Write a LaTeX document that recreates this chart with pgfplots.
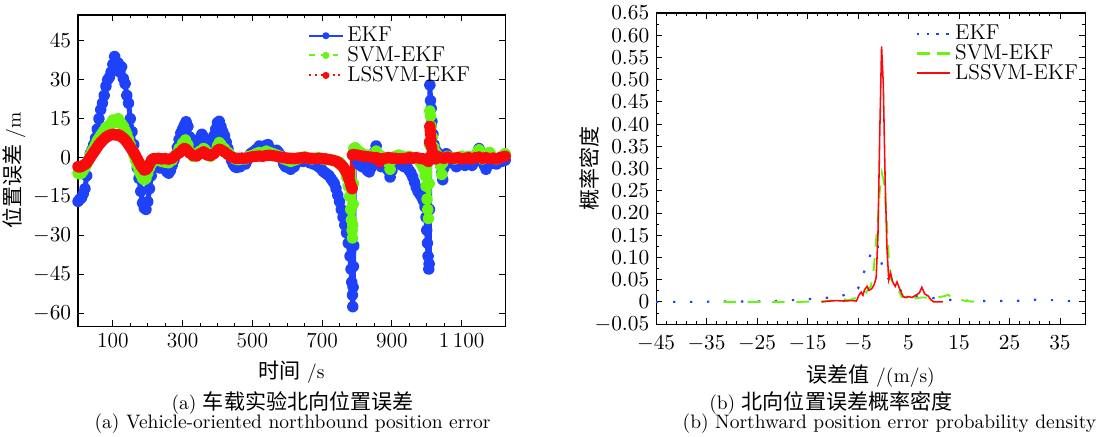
\documentclass[border=0pt]{standalone}
\usepackage{fontspec}
\usepackage{pgfplots}
\pgfplotsset{compat=1.18}
\newfontfamily\cjk[Scale=1.08]{Noto Sans CJK SC}
\definecolor{ekfblue}{RGB}{30,65,250}
\definecolor{svmgreen}{RGB}{105,245,20}
\definecolor{lsred}{RGB}{250,10,10}

\pgfplotsset{
  myaxis/.style={
    scale only axis,
    axis line style={line width=0.6pt},
    tick style={black, line width=0.5pt},
    major tick length=3pt, minor tick length=1.6pt,
    tick label style={font=\fontsize{11}{12}\selectfont},
    legend style={draw=none, fill=none, row sep=-3pt, inner sep=1.5pt,
      font=\fontsize{11}{12}\selectfont},
    legend cell align=left,
  },
  band/.style={line width=2.6pt, line join=round, mark=*, mark size=1.7pt,
    mark options={solid}},
}

\begin{document}
\begin{tikzpicture}
\useasboundingbox (0,0) rectangle (565pt,-224pt);

% (a) position error over time
\begin{axis}[myaxis,
  at={(40pt,-7.7pt)}, anchor=north west,
  width=219pt, height=159.5pt,
  xmin=0, xmax=1225, ymin=-65, ymax=55,
  xtick={100,300,500,700,900,1100},
  xticklabels={100,300,500,700,900,{1\,100}},
  minor x tick num=3,
  ytick={-60,-45,-30,-15,0,15,30,45},
  xlabel={{\cjk 时间}\ /s},
  ylabel={{\cjk 位置误差}\ /m},
  ylabel shift=-3pt,
  legend style={at={(0.935,0.985)}, anchor=north east},
]
\addplot[ekfblue, band, legend image post style={ekfblue, line width=1pt, mark size=1.3pt}] coordinates {
(0,-16.9)(5,-16)(10,-15.5)(15,-14)(20,-12)(25,-7)(30,-1)(35,1.5)(40,3)(45,5)
(50,7.5)(55,11)(60,15)(65,18.5)(70,21)(75,24)(80,27.5)(85,30)(90,31)(95,33)
(100,36)(105,39)(110,35)(115,36.5)(120,33)(125,35)(130,30.5)(135,28.5)(140,24)(145,21)
(150,15)(155,10)(160,5)(165,0)(170,-4)(175,-8)(180,-13)(185,-17.5)(190,-19.5)(195,-20)
(200,-17)(205,-12)(210,-7)(215,-4)(220,-3.5)(225,-3)(230,-3.5)(235,-4)(240,-3.5)(245,-3)
(250,-4.5)(255,-5.5)(260,-6)(265,-5)(270,-3)(275,-1)(280,1)(285,4)(290,7)(295,9.5)
(300,11)(305,12.5)(310,13.8)(315,12)(320,8)(325,4.5)(330,2.5)(335,2)(340,3.5)(345,6)
(350,7.5)(355,9)(360,8)(365,6)(370,4)(375,3)(380,4)(385,6)(390,8.5)(395,11)
(400,13.5)(405,14)(410,12)(415,10)(420,8.5)(425,6)(430,3.5)(435,1)(440,-1)(445,-2.5)
(450,-3.5)(455,-3.8)(460,-3)(465,-3.5)(470,-2.5)(475,-2)(480,-2.5)(485,-1)(490,0.5)(495,1.5)
(500,2)(505,0.5)(510,3)(515,3.5)(520,4.5)(525,4)(530,4.2)(535,3.5)(540,4.8)(545,5)
(550,3.5)(555,3)(560,2)(565,2.5)(570,2.8)(575,2)(580,1)(585,-0.5)(590,-2.5)(595,-3.5)
(600,-3)(605,-4)(610,-4.5)(615,-3)(620,-3.5)(625,-2)(630,-1.5)(635,-1)(640,-0.8)(645,-1.5)
(650,-0.5)(655,-1)(660,-1.2)(665,-2)(670,-1.5)(675,-2.5)(680,-2)(685,-3)(690,-3.5)(695,-4)
(700,-4.8)(705,-5.5)(710,-6)(715,-6.5)(720,-7)(725,-8)(730,-9)(735,-10)(740,-12)(745,-14.5)
(750,-17)(755,-20)(760,-23)(765,-26)(770,-29)(775,-33)(780,-38)(783,-43)(785,-48)(787,-53)
(788,-57.5)(789,-50)(790,-42)(791,-34)(792,3)(795,0.5)(800,-1)(805,-2.5)(810,-3)(815,-3.5)
(820,-3)(825,-4)(830,-5)(835,-5.5)(840,-4)(845,-2)(850,2)(855,4.5)(860,1)(865,-2)
(870,-3.5)(875,-3)(880,-2.5)(885,-3)(890,-5)(895,-7.5)(900,-5)(905,-2)(910,-1.5)(915,-2)
(920,-2.5)(925,-2)(930,-3)(935,-3.5)(940,-3)(945,-4)(950,-5)(955,-6)(960,-7.5)(965,-9.5)
(970,-11.5)(975,-13)(980,-14)(985,-15)(990,-16.5)(995,-19)(998,-23)(1000,-28)(1002,-33)(1004,-38)
(1006,-43)(1007,-41)(1008,-20)(1009,28)(1011,22)(1013,19)(1015,14)(1018,9)(1021,5)(1025,3)
(1030,2)(1035,1)(1040,-3)(1043,-6)(1046,-8.5)(1049,-4)(1052,0)(1056,1.5)(1060,1)(1065,-1)
(1070,-2)(1075,-1.5)(1080,-2.5)(1085,-3.5)(1090,-3)(1095,-2)(1100,-1)(1105,-2.5)(1110,-3)(1115,-2)
(1120,-1)(1125,-2)(1130,-3)(1135,-2)(1140,-0.5)(1145,1)(1150,3.5)(1155,0)(1160,-1.5)(1165,-3)
(1170,-4.5)(1175,-3)(1180,-2.5)(1185,-2)(1190,-1.5)(1195,-2)(1200,-2.5)(1205,-1.5)(1210,-1)(1215,-1.5)
(1220,-0.5)(1225,-1)
};
\addlegendentry{EKF}
\addplot[svmgreen, band, legend image post style={svmgreen, line width=1pt, mark size=1.3pt, dashed}] coordinates {
(0,-6)(5,-6.3)(10,-6)(15,-5)(20,-4)(25,-2.5)(30,-1)(35,1)(40,2.5)(45,3.5)
(50,5)(55,6.5)(60,7.5)(65,8.5)(70,9.5)(75,10.5)(80,11.5)(85,12)(90,12.5)(95,13)
(100,14.5)(105,13.5)(110,14)(115,15)(120,14)(125,13)(130,12)(135,10.5)(140,9)(145,7)
(150,5)(155,3)(160,1)(165,-1)(170,-3)(175,-5)(180,-6.5)(185,-8)(190,-8.5)(195,-8)
(200,-6)(205,-4)(210,-2.5)(215,-1.5)(220,-1.2)(230,-1)(240,-1.5)(250,-1.8)(260,-2)(270,-1)
(280,1)(290,3.5)(300,5.5)(308,6.8)(315,5)(320,2.5)(330,0.5)(340,1)(350,2.5)(360,3.5)
(365,3)(370,1.5)(380,0.5)(390,2)(400,4.5)(405,5.8)(410,5)(420,3.5)(430,2)(440,0.5)
(450,-0.5)(460,-0.8)(470,-0.5)(480,-0.5)(490,0.5)(500,0.8)(510,1.5)(520,2)(530,1.8)(540,2.5)
(550,2)(560,1.5)(570,1)(580,0.5)(590,-0.5)(600,-1)(610,-1.5)(620,-1)(630,-0.5)(640,0)
(650,0.3)(660,-0.2)(670,-0.5)(680,-0.3)(690,0)(700,-0.5)(710,-0.7)(720,-0.8)(730,-1)(740,-1.3)
(750,-1.8)(755,-2.5)(760,-3.5)(765,-5)(770,-7.5)(775,-11)(779,-15)(782,-20)(784,-24)(786,-28)
(787,-31)(788,-26)(789,-18)(790,-10)(791,3.5)(795,3.8)(800,3)(810,2)(820,1)(830,1)
(840,0.5)(850,1.5)(855,2.5)(860,1.5)(870,0.5)(880,0)(885,-0.5)(890,-2)(895,-4.5)(900,-1)
(910,0.5)(920,1)(930,0.5)(940,0)(950,0.5)(960,0)(970,-0.5)(980,-1.5)(985,-2.5)(990,-4)
(995,-7)(998,-11)(1001,-16)(1003,-20)(1005,-23.5)(1007,-10)(1008,5)(1009,18)(1011,16)(1013,12)
(1016,8)(1020,4)(1025,2)(1030,1)(1035,0)(1040,-3)(1043,-6.5)(1046,-2)(1050,0)(1060,0.5)
(1070,0)(1080,-0.5)(1090,0)(1100,0.5)(1110,0)(1120,0.5)(1130,0)(1140,1)(1145,2)(1150,3)
(1155,1)(1160,-0.5)(1170,0.5)(1180,2)(1185,1)(1190,0)(1200,-0.5)(1210,0)(1220,1)(1225,1.5)
};
\addlegendentry{SVM-EKF}
\addplot[lsred, band, legend image post style={lsred, line width=1pt, mark size=1.3pt, dotted}] coordinates {
(0,-3.5)(5,-3.6)(10,-3.4)(15,-3)(20,-2.6)(25,-2)(30,-1)(35,0)(40,1)(45,2)
(50,3)(55,4)(60,5)(65,5.8)(70,6.5)(75,7.2)(80,7.8)(85,8.2)(90,8.6)(95,8.8)
(100,9)(105,8.8)(110,8.7)(115,8.8)(120,8.5)(125,8)(130,7.5)(135,6.8)(140,6)(145,5)
(150,4)(155,3)(160,2)(165,0.8)(170,-0.5)(175,-1.8)(180,-3)(185,-4)(190,-4.8)(195,-4.6)
(200,-3.8)(205,-2.5)(210,-1.2)(215,-0.5)(220,-0.4)(230,-0.3)(240,-0.5)(250,-0.4)(260,-0.6)(270,-0.2)
(280,0.8)(290,1.8)(300,3)(305,3.5)(310,3.2)(315,2.5)(320,1.8)(330,0.8)(340,0.6)(350,1.5)
(360,2.2)(365,1.8)(370,1)(380,0.8)(390,1.5)(400,2.8)(405,3.2)(410,3)(420,2.2)(430,1.2)
(440,0.3)(450,-0.2)(460,-0.3)(470,-0.2)(480,-0.3)(490,0)(500,0.3)(510,0.5)(520,0.6)(530,0.5)
(540,0.8)(550,0.9)(560,0.7)(570,0.5)(580,0.2)(590,0)(600,-0.2)(610,-0.3)(620,-0.4)(630,-0.2)
(640,-0.1)(650,0)(660,-0.2)(670,-0.3)(680,-0.4)(690,-0.3)(700,-0.4)(710,-0.5)(720,-0.7)(730,-1)
(740,-1.4)(745,-1.8)(750,-2.3)(755,-2.9)(760,-3.6)(765,-4.5)(770,-5.8)(775,-7.5)(779,-9)(782,-10.5)
(785,-11.5)(786,-12)(787,1)(790,1.2)(800,1)(810,0.7)(820,0.5)(830,0.3)(840,0.2)(850,-0.2)
(855,0)(860,-0.3)(865,-1.5)(870,-0.5)(880,-0.3)(890,0)(900,-0.2)(910,-0.3)(920,-0.5)(930,-0.4)
(940,-0.3)(950,0)(960,-0.2)(970,0)(980,-0.3)(990,-0.5)(1000,-1)(1005,-1.5)(1007,0)(1008,6)
(1009,12)(1010,10.5)(1011,9)(1012,7)(1014,4)(1017,2)(1020,0.5)(1025,-0.5)(1030,0.5)(1040,0)
(1050,-0.3)(1060,0.2)(1070,-0.3)(1080,-0.2)(1090,0)(1100,-0.5)(1110,-0.3)(1120,0)(1130,-0.5)(1140,0)
(1150,0.2)(1160,-0.3)(1170,0)(1180,-0.4)(1190,-0.2)(1200,-0.5)(1210,0)(1220,0.3)(1225,0.5)
};
\addlegendentry{LSSVM-EKF}
\end{axis}

% (b) error probability density
\begin{axis}[myaxis,
  at={(336.4pt,-6.7pt)}, anchor=north west,
  width=220pt, height=159.5pt,
  xmin=-45, xmax=40, ymin=-0.05, ymax=0.65,
  xtick={-45,-35,-25,-15,-5,5,15,25,35},
  minor x tick num=4,
  xticklabel style={yshift=-2.5pt},
  ytick={-0.05,0,0.05,0.1,0.15,0.2,0.25,0.3,0.35,0.4,0.45,0.5,0.55,0.6,0.65},
  yticklabels={$-0.05$,$0$,$0.05$,$0.10$,$0.15$,$0.20$,$0.25$,$0.30$,$0.35$,$0.40$,$0.45$,$0.50$,$0.55$,$0.60$,$0.65$},
  minor y tick num=1,
  xlabel={{\cjk 误差值}\ /(m/s)},
  ylabel={{\cjk 概率密度}},
  ylabel shift=-9pt,
  legend style={at={(1,0.985)}, anchor=north east},
]
\addplot[ekfblue, line width=1.1pt, dash pattern=on 1.2pt off 7.5pt,
  legend image post style={ekfblue, dash pattern=on 1.2pt off 3.8pt}] coordinates {
(-45,0)(-41,0)(-37,0)(-33,0.001)(-29,0.001)(-25,0.001)(-21,0.002)(-16.5,0.005)(-12.4,0.008)(-8.7,0.012)
(-6.5,0.02)(-5,0.03)(-3.6,0.074)(-2.1,0.12)(-1.2,0.13)(-0.4,0.089)(0.5,0.06)(1.5,0.045)(3.5,0.025)(5.5,0.015)
(7.5,0.011)(9.7,0.009)(13.6,0.004)(17.8,0.002)(21.8,0.002)(25.9,0.002)(29.9,0.005)(33.9,0.004)(38.1,0.001)
};
\addlegendentry{EKF}
\addplot[svmgreen, line width=1pt, dash pattern=on 6.5pt off 6pt,
  legend image post style={svmgreen, line width=1.1pt, dash pattern=on 6.5pt off 4pt}] coordinates {
(-31.7,0)(-24.9,0)(-17.8,0)(-12.1,0.001)(-9.25,0.004)(-8.5,0.01)(-7.1,0.003)(-5,0.01)(-3.9,0.012)(-3.2,0.025)
(-2.5,0.035)(-2,0.06)(-1.55,0.12)(-1.06,0.19)(-0.7,0.25)(-0.28,0.29)(0.15,0.27)(0.58,0.2)(1.08,0.1)(1.58,0.05)
(2.15,0.04)(2.86,0.03)(3.57,0.012)(4.64,0.01)(5.57,0.022)(6.42,0.008)(7.49,0.01)(9.27,0.01)(10.7,0.01)(12.1,0.013)
(12.8,0.016)(13.7,0.01)(16.4,0.002)(18.5,0)
};
\addlegendentry{SVM-EKF}
\addplot[lsred, line width=0.8pt, legend image post style={lsred, line width=1pt}] coordinates {
(-12.24,0)(-10.67,0.002)(-9.25,0.003)(-7.82,0.002)(-6.4,0.003)(-5.33,0.002)(-4.83,0.015)(-4.4,0.022)(-4.05,0.015)(-3.69,0.028)
(-3.2,0.035)(-2.84,0.026)(-2.27,0.03)(-1.77,0.04)(-1.41,0.055)(-1.06,0.15)(-0.7,0.38)(-0.34,0.575)(0,0.49)(0.37,0.27)
(0.73,0.12)(1.08,0.05)(1.44,0.065)(1.86,0.045)(2.36,0.035)(2.72,0.045)(3.22,0.03)(3.93,0.012)(4.5,0.01)(5,0.012)
(5.71,0.01)(6.42,0.015)(7.13,0.02)(7.63,0.033)(8.2,0.018)(8.92,0.013)(9.42,0.005)(9.99,0)(11.8,0)
};
\addlegendentry{LSSVM-EKF}
\end{axis}

\node[anchor=base] at (150pt,-209.7pt) {(a) {\cjk 车载实验北向位置误差}};
\node[anchor=base] at (150pt,-219.9pt) {(a) Vehicle-oriented northbound position error};
\node[anchor=base] at (426pt,-209.7pt) {(b) {\cjk 北向位置误差概率密度}};
\node[anchor=base] at (456pt,-219.9pt) {(b) Northward position error probability density};
\end{tikzpicture}
\end{document}
